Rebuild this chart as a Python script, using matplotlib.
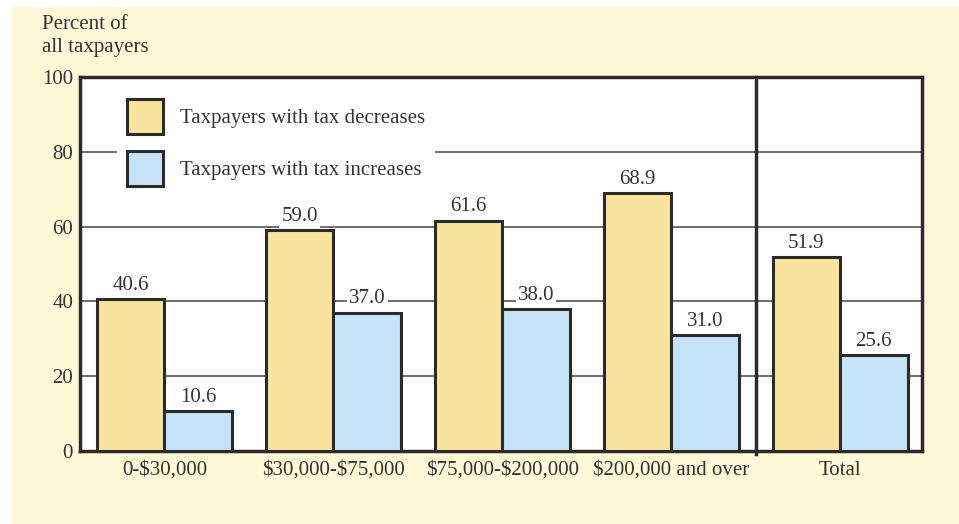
import numpy as np
import matplotlib
matplotlib.use('Agg')
import matplotlib.pyplot as plt
import matplotlib.patches as mpatches

####### Data #######

categories = ['0-$30,000', '$30,000-$75,000', '$75,000-$200,000',
              '$200,000 and over', 'Total']
decreases = [40.6, 59.0, 61.6, 68.9, 51.9]
increases = [10.6, 37.0, 38.0, 31.0, 25.6]
series_labels = ['Taxpayers with tax decreases', 'Taxpayers with tax increases']
yticks = [0, 20, 40, 60, 80, 100]

####### Style #######

BG = '#FFF9D8'
YELLOW = '#F9E49D'
BLUE = '#C6E4F7'
DARK = '#2B2B2B'
TEXT = '#333333'
FS = 15

plt.rcParams['font.family'] = ['Liberation Serif', 'DejaVu Serif']
plt.rcParams['text.parse_math'] = False

W, H = 959, 524
fig = plt.figure(figsize=(W / 100, H / 100), dpi=100)
fig.patch.set_facecolor('white')
fig.add_artist(mpatches.Rectangle(
    (12 / W, 0), 1 - 12 / W, 1 - 7 / H, transform=fig.transFigure,
    facecolor=BG, edgecolor='none', zorder=-10
))

ax = fig.add_axes([80 / W, 1 - 451 / H, (922 - 80) / W, (451 - 77) / H])
ax.set_facecolor('white')

x = np.arange(len(categories))
width = 0.4
b1 = ax.bar(x - width / 2, decreases, width, color=YELLOW, edgecolor=DARK,
            linewidth=2.2, zorder=3)
b2 = ax.bar(x + width / 2, increases, width, color=BLUE, edgecolor=DARK,
            linewidth=2.2, zorder=3)

for bars, vals in ((b1, decreases), (b2, increases)):
    for rect, v in zip(bars, vals):
        ax.annotate(f'{v:.1f}', (rect.get_x() + rect.get_width() / 2, v),
                    xytext=(0, 3), textcoords='offset points',
                    ha='center', va='bottom', fontsize=FS, color=TEXT,
                    zorder=4,
                    bbox=dict(facecolor='white', edgecolor='none', pad=1.5))

# separator before "Total"
ax.plot([3.5, 3.5], [-0.9, 100], color=DARK, lw=2.5, clip_on=False, zorder=5)

ax.set_xlim(-0.5, 4.485)
ax.set_ylim(0, 100)
ax.set_yticks(yticks)
ax.set_xticks(x)
ax.set_xticklabels(categories)
ax.tick_params(axis='both', length=0, labelsize=FS, colors=TEXT)
ax.tick_params(axis='x', pad=7)
ax.tick_params(axis='y', pad=5)
ax.yaxis.grid(True, color='#555555', lw=1.2, zorder=1)
ax.set_axisbelow(True)
for s in ax.spines.values():
    s.set_color(DARK)
    s.set_linewidth(2.5)

proxies = [mpatches.Patch(facecolor=YELLOW, edgecolor=DARK, lw=2.2),
           mpatches.Patch(facecolor=BLUE, edgecolor=DARK, lw=2.2)]
leg = ax.legend(proxies, series_labels, loc='upper left',
                bbox_to_anchor=((117 - 80) / 842, 1 - (89 - 77) / 374),
                fontsize=FS, frameon=True, fancybox=False, framealpha=1,
                facecolor='white', edgecolor='none', handlelength=1.7,
                handleheight=2.2, handletextpad=0.8, labelspacing=0.8,
                borderpad=0.5, borderaxespad=0)
for t in leg.get_texts():
    t.set_color(TEXT)
leg.set_zorder(6)

fig.text(42 / W, 1 - 15 / H, 'Percent of\nall taxpayers', ha='left', va='top',
         fontsize=FS, color=TEXT, linespacing=1.3)

fig.savefig('out.png', dpi=100, facecolor=fig.get_facecolor())
